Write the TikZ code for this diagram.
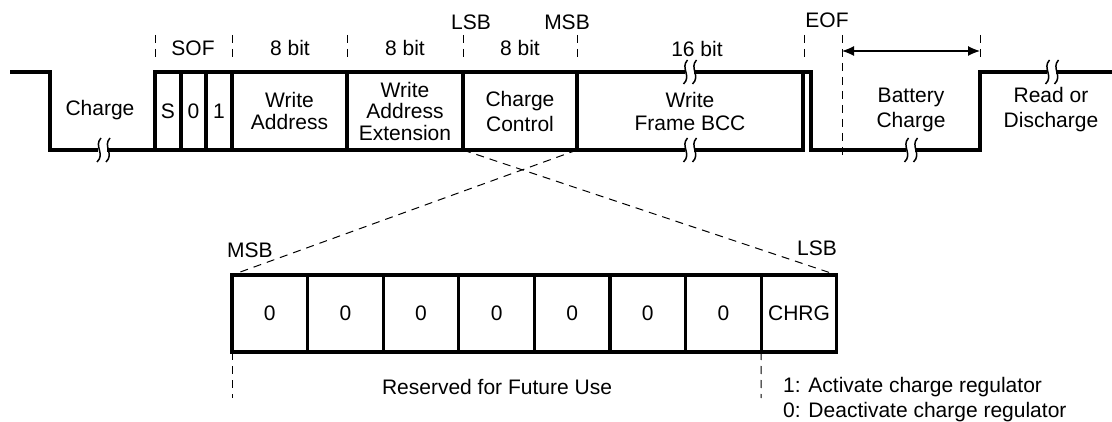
\documentclass[tikz,border=0pt]{standalone}
\usepackage{fontspec}
\setmainfont{Liberation Sans}
\usetikzlibrary{arrows.meta}
\begin{document}
\begin{tikzpicture}[x=1pt,y=-1pt,
  thickln/.style={line width=3.2pt, line join=miter},
  dashln/.style={line width=1pt, dash pattern=on 8pt off 6pt},
  field/.style={draw, line width=3.2pt, inner sep=0pt, outer sep=0pt, align=center,
    minimum height=78pt, font=\fontsize{21}{22}\selectfont},
  cell/.style={draw, line width=3.2pt, inner sep=0pt, outer sep=0pt,
    minimum width=75.6pt, minimum height=77pt, font=\fontsize{21}{22}\selectfont},
  lbl/.style={inner sep=0pt, align=center, font=\fontsize{21}{22}\selectfont},
  lblw/.style={inner sep=0pt, align=center, font=\fontsize{21}{25}\selectfont},
  brk/.pic={
    \fill[white] (-4.5,-6) rectangle (4.5,6);
    \draw[line width=1.5pt] (-1.5,-12) .. controls (-9,-4) and (3,4) .. (-5.5,12);
    \draw[line width=1.5pt] (7.5,-12) .. controls (0,-4) and (12,4) .. (3.5,12);
  }
]
\useasboundingbox (0,0) rectangle (1112,422);

% top frame fields
\node[field, minimum width=26pt]  (s)   at (168,111)   {S};
\node[field, minimum width=25pt]  (z)   at (193.5,111) {0};
\node[field, minimum width=26pt]  (one) at (219,111)   {1};
\node[field, minimum width=115pt] (wa)  at (289.5,111) {Write\\Address};
\node[field, minimum width=116pt, font=\fontsize{21}{21.5}\selectfont] (wae) at (405,111) {Write\\Address\\Extension};
\node[field, minimum width=114pt, font=\fontsize{21}{25}\selectfont] (cc)  at (520,111) {Charge\\Control};
\node[field, minimum width=226pt, font=\fontsize{21}{23}\selectfont] (wfb) at (690,111) {Write\\Frame BCC};

% waveform
\coordinate (w0) at (10,72);
\coordinate (w1) at (50,72);
\coordinate (w2) at (50,150);
\draw[thickln] (w0) -- (w1) -- (w2) -- (s.south west);
\coordinate (e0) at (811,72);
\coordinate (e1) at (811,150);
\coordinate (e2) at (980,150);
\coordinate (e3) at (980,72);
\coordinate (e4) at (1112,72);
\draw[thickln] (wfb.north east) -- (e0) -- (e1) -- (e2) -- (e3) -- (e4);

% break marks
\pic at (102.5,150) {brk};
\pic at (689,72) {brk};
\pic at (689,150) {brk};
\pic at (910,150) {brk};
\pic at (1051,72) {brk};

% texts in waveform
\node[lbl] (tch) at (100,110) {Charge};
\node[lblw] (tbc) at (911,110) {Battery\\Charge};
\node[lblw] (trd) at (1051,110) {Read or\\Discharge};

% top dashed markers
\foreach \x in {155,232,347,463,577,804,980}
  \draw[dashln] (\x,35) -- (\x,62);
\draw[dashln] (842,35) -- (842,158);

\node[lbl] (tsof) at (193,48) {SOF};
\node[lbl] (tb1) at (290,48) {8 bit};
\node[lbl] (tb2) at (405,48) {8 bit};
\node[lbl] (tb3) at (520,48) {8 bit};
\node[lbl] (tb4) at (697,49) {16 bit};
\node[lbl] (tlsb) at (471,22) {LSB};
\node[lbl] (tmsb) at (567,22) {MSB};
\node[lbl] (teof) at (827,20) {EOF};

\coordinate (a0) at (842,51);
\coordinate (a1) at (980,51);
\draw[line width=1.2pt, {Latex[length=12pt,width=10pt]}-{Latex[length=12pt,width=10pt]}] (a0) -- (a1);

% bottom register
\foreach \i/\t in {1/0,2/0,3/0,4/0,5/0,6/0,7/0,8/CHRG}
  \node[cell] (c\i) at ({232+75.6*(\i-0.5)},313.5) {\t};

\draw[dashln] (cc.south east) -- (c1.north west);
\draw[dashln, shorten >=8pt] (cc.south west) -- (c8.north east);

\node[lbl] (bmsb) at (250,250) {MSB};
\node[lbl] (blsb) at (817,248) {LSB};

\coordinate (d1) at (232,398);
\coordinate (d2) at (761,398);
\draw[dashln] (c1.south west) -- (d1);
\draw[dashln] (c8.south west) -- (d2);

\node[lbl] (rfu) at (497,387) {Reserved for Future Use};
\node[lbl, anchor=west] (act) at (783,387) {1: Activate charge regulator};
\node[lbl, anchor=west] (dea) at (783,412) {0: Deactivate charge regulator};
\end{tikzpicture}
\end{document}
